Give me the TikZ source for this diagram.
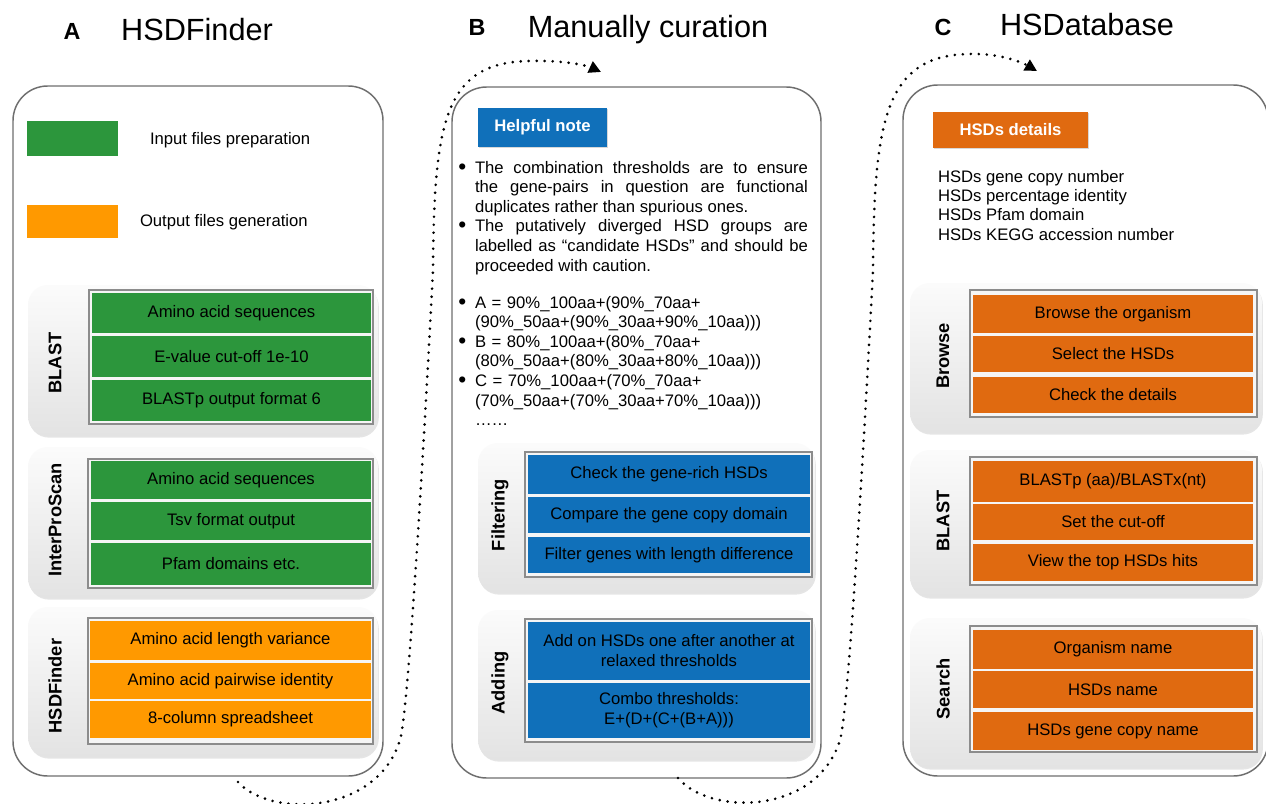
\documentclass[tikz,border=0pt]{standalone}
\usepackage{fontspec}
\setmainfont{Liberation Sans}
\usetikzlibrary{arrows.meta,shadows}
\setlength{\parindent}{0pt}
\definecolor{cgreen}{RGB}{44,150,60}
\definecolor{corangeL}{RGB}{255,153,0}
\definecolor{cblue}{RGB}{16,112,186}
\definecolor{corangeD}{RGB}{224,106,16}
\definecolor{cframe}{RGB}{140,140,140}
\definecolor{cpanel}{RGB}{110,110,110}
\newcommand{\fsz}{\fontsize{12.5}{15}\selectfont}
\newcommand{\fnotes}{\fontsize{12.5}{14.7}\selectfont}
\newcommand{\bxnode}[7]{%
 \pgfmathsetmacro{\bxcx}{(#3+#5)/2}%
 \pgfmathsetmacro{\bxcy}{(#4+#6)/2}%
 \pgfmathsetmacro{\bxw}{(#5-#3)*0.75}%
 \pgfmathsetmacro{\bxh}{(#6-#4)*0.75}%
 \node[#2, minimum width=\bxw pt, minimum height=\bxh pt] (#1) at (\bxcx,\bxcy) {#7};}
\newcommand{\bulmark}{\hangindent=12.75pt\hangafter=1\makebox[12.75pt][l]{\hspace{0.2pt}\raisebox{-0.8pt}{\fontsize{17}{17}\selectfont •}}}
\begin{document}
\begin{tikzpicture}[x=0.75pt,y=-0.75pt,
 every node/.style={inner sep=0pt, outer sep=0pt},
 panel/.style={draw=cpanel, line width=1.1pt, rounded corners=26pt, fill=white},
 grp/.style={rounded corners=15pt, top color=gray!3, bottom color=gray!22, draw=none,
   drop shadow={shadow xshift=0.6pt, shadow yshift=-1.2pt, opacity=0.2}},
 frm/.style={draw=cframe, line width=1pt, fill=gray!8},
 cell/.style={align=center, font=\fsz, text=black},
 gcell/.style={cell, fill=cgreen},
 ocell/.style={cell, fill=corangeL},
 bcell/.style={cell, fill=cblue},
 dcell/.style={cell, fill=corangeD},
 glabel/.style={rotate=90, font=\bfseries\fontsize{13.7}{16}\selectfont},
 tag/.style={font=\bfseries\fsz, text=white, drop shadow={shadow xshift=0.8pt, shadow yshift=-0.8pt, opacity=0.3}},
 letter/.style={font=\bfseries\fontsize{17.5}{20}\selectfont, anchor=base},
 title/.style={font=\fontsize{23}{26}\selectfont, anchor=base},
 plain/.style={font=\fsz},
 dotarrow/.style={line width=2.2pt, line cap=round, dash pattern=on 0pt off 6pt, -{Triangle[length=9pt,width=9pt]}}
]
\useasboundingbox (0,0) rectangle (1266,803);
\clip (0,0) rectangle (1266,803);

% titles
\node[letter] (tA) at (72,39) {A};
\node[title] (tAt) at (197,40) {HSDFinder};
\node[letter] (tB) at (477,36) {B};
\node[title] (tBt) at (648,37) {Manually curation};
\node[letter] (tC) at (943,35) {C};
\node[title] (tCt) at (1087,36) {HSDatabase};

% panels
\bxnode{pA}{panel}{13}{86}{383}{776}{}
\bxnode{pB}{panel}{452}{87}{821}{778}{}
\bxnode{pC}{panel}{903}{85}{1268}{776}{}

% ---------- panel A ----------
\bxnode{lgG}{fill=cgreen}{27}{121}{118}{156}{}
\node[plain, anchor=west] (lgGt) at (150,140) {Input files preparation};
\bxnode{lgO}{fill=corangeL}{27}{205}{118}{238}{}
\node[plain, anchor=west] (lgOt) at (140,222) {Output files generation};

\bxnode{gA1}{grp}{28}{285}{378}{436}{}
\bxnode{fA1}{frm}{89}{290}{373}{424}{}
\bxnode{cA11}{gcell}{92}{293}{371}{333}{Amino acid sequences}
\bxnode{cA12}{gcell}{92}{336}{371}{377}{E-value cut-off 1e-10}
\bxnode{cA13}{gcell}{92}{380}{371}{421}{BLASTp output format 6}
\node[glabel] (lA1) at (55,363) {BLAST};

\bxnode{gA2}{grp}{28}{447}{378}{598}{}
\bxnode{fA2}{frm}{88}{459}{373}{588}{}
\bxnode{cA21}{gcell}{91}{461}{371}{499}{Amino acid sequences}
\bxnode{cA22}{gcell}{91}{502}{371}{540}{Tsv format output}
\bxnode{cA23}{gcell}{91}{543}{371}{585}{Pfam domains etc.}
\node[glabel] (lA2) at (55,520) {InterProScan};

\bxnode{gA3}{grp}{28}{607}{378}{757}{}
\bxnode{fA3}{frm}{88}{618}{373}{744}{}
\bxnode{cA31}{ocell}{90}{621}{371}{660}{Amino acid length variance}
\bxnode{cA32}{ocell}{90}{663}{371}{699}{Amino acid pairwise identity}
\bxnode{cA33}{ocell}{90}{701}{371}{738}{8-column spreadsheet}
\node[glabel] (lA3) at (55,686) {HSDFinder};

% ---------- panel B ----------
\bxnode{tagB}{tag, fill=cblue}{478}{108}{607}{147}{Helpful note}
\node[anchor=north west, text width=262.5pt, align=justify, font=\fnotes] (notes1) at (458,161) {%
\bulmark The combination thresholds are to ensure\linebreak the gene-pairs in question are functional\linebreak duplicates rather than spurious ones.\par
\bulmark The putatively diverged HSD groups are\linebreak labelled as “candidate HSDs” and should be\linebreak proceeded with caution.\par};
\node[anchor=north west, text width=262.5pt, align=left, font=\fnotes] (notes2) at (458,296) {%
\bulmark A = 90\%\_100aa+(90\%\_70aa+\newline(90\%\_50aa+(90\%\_30aa+90\%\_10aa)))\par
\bulmark B = 80\%\_100aa+(80\%\_70aa+\newline(80\%\_50aa+(80\%\_30aa+80\%\_10aa)))\par
\bulmark C = 70\%\_100aa+(70\%\_70aa+\newline(70\%\_50aa+(70\%\_30aa+70\%\_10aa)))\par
\hspace*{12.75pt}……\par};

\bxnode{gB1}{grp}{478}{443}{815}{593}{}
\bxnode{fB1}{frm}{525}{452}{812}{577}{}
\bxnode{cB11}{bcell}{528}{455}{810}{494}{Check the gene-rich HSDs}
\bxnode{cB12}{bcell}{528}{497}{810}{533}{Compare the gene copy domain}
\bxnode{cB13}{bcell}{528}{537}{810}{573}{Filter genes with length difference}
\node[glabel] (lB1) at (500,515) {Filtering};

\bxnode{gB2}{grp}{478}{610}{815}{760}{}
\bxnode{fB2}{frm}{525}{619}{812}{742}{}
\bxnode{cB21}{bcell}{528}{622}{810}{680}{Add on HSDs one after another at\\relaxed thresholds}
\bxnode{cB22}{bcell}{528}{683}{810}{738}{Combo thresholds:\\E+(D+(C+(B+A)))}
\node[glabel] (lB2) at (500,683) {Adding};

% ---------- panel C ----------
\bxnode{tagC}{tag, fill=corangeD}{933}{112}{1088}{148}{HSDs details}
\node[anchor=north west, align=left, font=\fontsize{12.5}{14.5}\selectfont] (details) at (938,170) {HSDs gene copy number\\HSDs percentage identity\\HSDs Pfam domain\\HSDs KEGG accession number};

\bxnode{gC1}{grp}{910}{283}{1262}{433}{}
\bxnode{fC1}{frm}{970}{290}{1257}{417}{}
\bxnode{cC11}{dcell}{973}{295}{1253}{333}{Browse the organism}
\bxnode{cC12}{dcell}{973}{336}{1253}{372}{Select the HSDs}
\bxnode{cC13}{dcell}{973}{377}{1253}{413}{Check the details}
\node[glabel] (lC1) at (943,356) {Browse};

\bxnode{gC2}{grp}{910}{450}{1262}{597}{}
\bxnode{fC2}{frm}{970}{457}{1257}{585}{}
\bxnode{cC21}{dcell}{973}{461}{1253}{502}{BLASTp (aa)/BLASTx(nt)}
\bxnode{cC22}{dcell}{973}{504}{1253}{540}{Set the cut-off}
\bxnode{cC23}{dcell}{973}{544}{1253}{581}{View the top HSDs hits}
\node[glabel] (lC2) at (943,521) {BLAST};

\bxnode{gC3}{grp}{910}{618}{1262}{768}{}
\bxnode{fC3}{frm}{970}{626}{1257}{752}{}
\bxnode{cC31}{dcell}{973}{630}{1253}{669}{Organism name}
\bxnode{cC32}{dcell}{973}{671}{1253}{708}{HSDs name}
\bxnode{cC33}{dcell}{973}{712}{1253}{750}{HSDs gene copy name}
\node[glabel] (lC3) at (943,689) {Search};

% ---------- dotted arrows ----------
\coordinate (a1s) at (238,782);
\coordinate (a1m) at (400,740);
\coordinate (a1n) at (433,270);
\coordinate (a1p) at (530,61);
\coordinate (a1e) at (601,72);
\draw[dotarrow] (a1s) .. controls +(32,36) and +(-23,75) .. (a1m)
  .. controls +(10,-33) and +(-3,60) .. (a1n)
  .. controls +(1,-150) and +(-85,1) .. (a1p)
  .. controls +(35,-1) and +(-13,-6) .. (a1e);

\coordinate (a2s) at (678,778);
\coordinate (a2m) at (840,740);
\coordinate (a2n) at (873,270);
\coordinate (a2p) at (970,54);
\coordinate (a2e) at (1037,71);
\draw[dotarrow] (a2s) .. controls +(32,38) and +(-23,75) .. (a2m)
  .. controls +(10,-33) and +(-3,60) .. (a2n)
  .. controls +(1,-150) and +(-85,1) .. (a2p)
  .. controls +(32,-1) and +(-12,-7) .. (a2e);
\end{tikzpicture}
\end{document}
